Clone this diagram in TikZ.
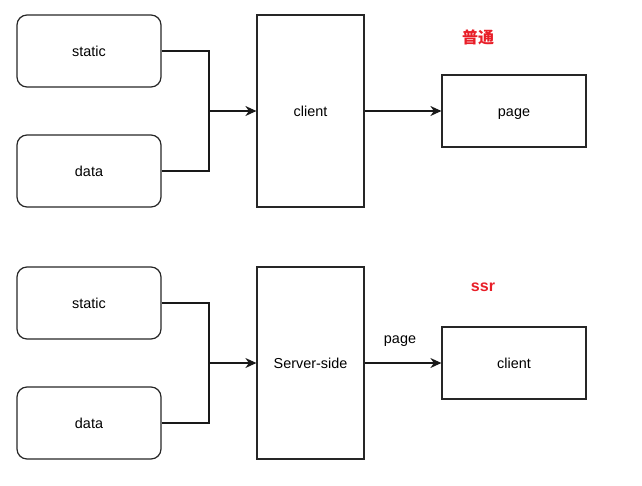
\documentclass[tikz,border=0pt]{standalone}
\usepackage{fontspec}
\setmainfont{Liberation Sans}
\newfontfamily\cjk{Noto Sans CJK SC}
\usetikzlibrary{arrows.meta}
\definecolor{lbl}{RGB}{232,30,40}
\begin{document}
\begin{tikzpicture}[x=1pt,y=-1pt,
  txt/.style={font=\fontsize{14.4}{16}\selectfont, text height=10.4pt, text depth=0pt},
  rbox/.style={txt, draw=black!85, line width=1.2pt, rounded corners=10pt, minimum width=144pt, minimum height=72pt, inner sep=0pt},
  sbox/.style={txt, draw=black!85, line width=1.2pt, minimum width=144pt, minimum height=72pt, inner sep=0pt},
  tall/.style={txt, draw=black!85, line width=1.2pt, minimum width=107pt, minimum height=192pt, inner sep=0pt},
  conn/.style={line width=1.2pt, draw=black!90},
  arr/.style={conn, -{Stealth[length=11pt,width=10pt,inset=3.5pt]}},
  red/.style={text=lbl, font=\fontsize{16}{18}\selectfont\bfseries}
]
\useasboundingbox (0,0) rectangle (642,485);
% top
\node[rbox] (st1) at (89,51) {static};
\node[rbox] (da1) at (89,171) {data};
\node[tall] (cl1) at (310.5,111) {client};
\node[sbox] (pg1) at (514,111) {page};
\node[red] (lb1) at (478,37) {\cjk 普通};
\coordinate (j1) at (209,111);
\draw[conn] (st1.east) -| (j1);
\draw[conn] (da1.east) -| (j1);
\draw[arr] (j1) -- (cl1.west);
\draw[arr] (cl1.east) -- (pg1.west);
% bottom
\node[rbox] (st2) at (89,303) {static};
\node[rbox] (da2) at (89,423) {data};
\node[tall] (sv2) at (310.5,363) {Server-side};
\node[sbox] (cl2) at (514,363) {client};
\node[red] (lb2) at (483,287) {ssr};
\node[txt] (pl2) at (400,338) {page};
\coordinate (j2) at (209,363);
\draw[conn] (st2.east) -| (j2);
\draw[conn] (da2.east) -| (j2);
\draw[arr] (j2) -- (sv2.west);
\draw[arr] (sv2.east) -- (cl2.west);
\end{tikzpicture}
\end{document}
